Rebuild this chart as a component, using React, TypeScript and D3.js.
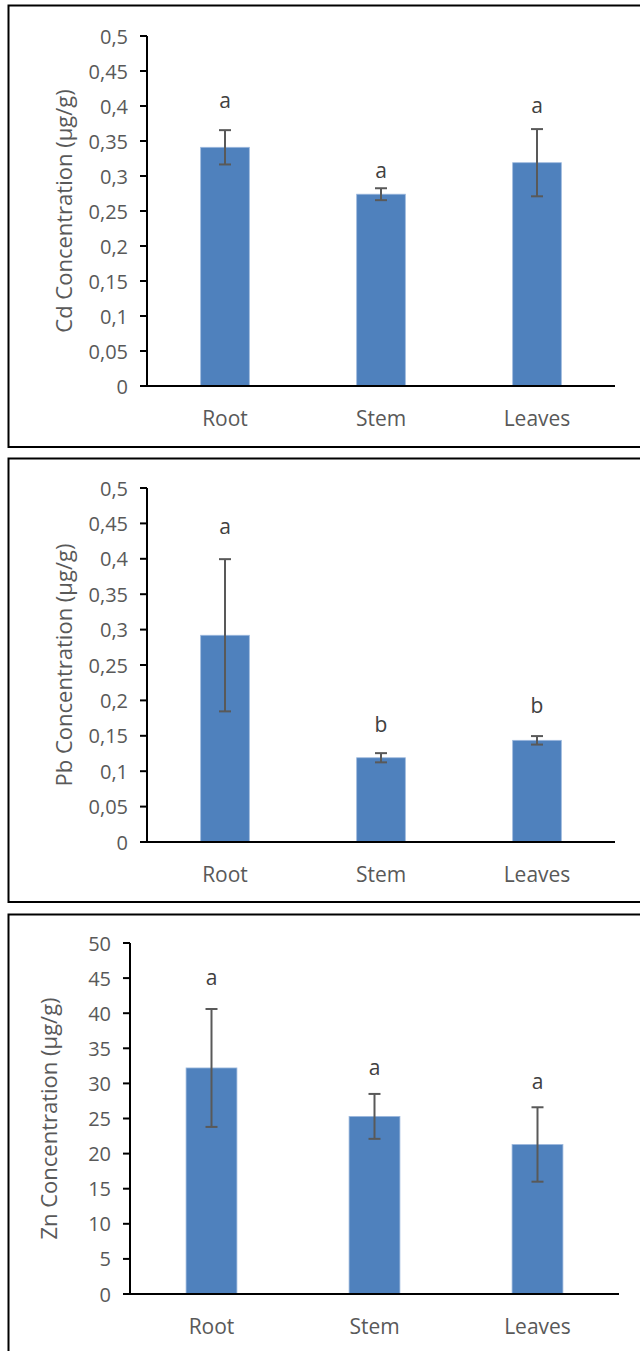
import React from "react";
import * as d3 from "d3";

const categories = ["Root", "Stem", "Leaves"];

const cdMeans = [0.341, 0.274, 0.319];
const cdErrors = [0.0245, 0.0085, 0.048];
const cdLetters = ["a", "a", "a"];
const cdLetterAt = [0.408, 0.309, 0.402];
const cdTicks = [0, 0.05, 0.1, 0.15, 0.2, 0.25, 0.3, 0.35, 0.4, 0.45, 0.5];

const pbMeans = [0.292, 0.119, 0.1436];
const pbErrors = [0.1075, 0.0065, 0.006];
const pbLetters = ["a", "b", "b"];
const pbLetterAt = [0.446, 0.167, 0.193];
const pbTicks = [0, 0.05, 0.1, 0.15, 0.2, 0.25, 0.3, 0.35, 0.4, 0.45, 0.5];

const znMeans = [32.2, 25.3, 21.3];
const znErrors = [8.4, 3.2, 5.3];
const znLetters = ["a", "a", "a"];
const znLetterAt = [45.2, 32.4, 30.4];
const znTicks = [0, 5, 10, 15, 20, 25, 30, 35, 40, 45, 50];

const FONT = "'Open Sans', 'Noto Sans', sans-serif";
const TEXT = "#595959";
const BAR = "#4F81BD";
const ERR = "#595959";

type PanelProps = {
  box: [number, number, number, number];
  axisX: number;
  axisEnd: number;
  yTop: number;
  yBottom: number;
  titleX: number;
  title: string;
  means: number[];
  errors: number[];
  letters: string[];
  letterAt: number[];
  ticks: number[];
  yMax: number;
  fmt: (v: number) => string;
};

function Panel(p: PanelProps) {
  const y = d3.scaleLinear().domain([0, p.yMax]).range([p.yBottom, p.yTop]);
  const x = d3.scaleBand<string>().domain(categories).range([p.axisX, p.axisEnd]).padding(0);
  const bw = x.bandwidth() * 0.312;
  const [bx, by, bwid, bh] = p.box;
  return (
    <g>
      <rect x={bx} y={by} width={bwid} height={bh} fill="#fff" stroke="#000" strokeWidth={2} />
      {categories.map((c, i) => {
        const cx = (x(c) as number) + x.bandwidth() / 2;
        const top = y(p.means[i]);
        const eTop = y(p.means[i] + p.errors[i]);
        const eBot = y(p.means[i] - p.errors[i]);
        return (
          <g key={c}>
            <rect x={cx - bw / 2} y={top} width={bw} height={p.yBottom - top} fill={BAR} stroke="#9DB9DE" strokeWidth={0.8} />
            <line x1={cx} x2={cx} y1={eTop} y2={eBot} stroke={ERR} strokeWidth={2} />
            <line x1={cx - 6} x2={cx + 6} y1={eTop} y2={eTop} stroke={ERR} strokeWidth={2} />
            <line x1={cx - 6} x2={cx + 6} y1={eBot} y2={eBot} stroke={ERR} strokeWidth={2} />
            <text x={cx} y={y(p.letterAt[i])} textAnchor="middle" dominantBaseline="central" fontFamily={FONT} fontSize={21} fill="#404040">
              {p.letters[i]}
            </text>
            <text x={cx} y={p.yBottom + 32} textAnchor="middle" dominantBaseline="central" fontFamily={FONT} fontSize={21} fill={TEXT}>
              {c}
            </text>
          </g>
        );
      })}
      {p.ticks.map((t) => (
        <g key={t}>
          <line x1={p.axisX - 7} x2={p.axisX} y1={y(t)} y2={y(t)} stroke="#000" strokeWidth={2} />
          <text x={p.axisX - 19} y={y(t)} textAnchor="end" dominantBaseline="central" fontFamily={FONT} fontSize={20} fill={TEXT}>
            {p.fmt(t)}
          </text>
        </g>
      ))}
      <line x1={p.axisX} x2={p.axisX} y1={y(p.yMax)} y2={p.yBottom} stroke="#000" strokeWidth={2} />
      <line x1={p.axisX - 7} x2={p.axisEnd} y1={p.yBottom} y2={p.yBottom} stroke="#000" strokeWidth={2} />
      <text
        transform={`translate(${p.titleX},${(p.yTop + p.yBottom) / 2}) rotate(-90)`}
        textAnchor="middle"
        dominantBaseline="central"
        fontFamily={FONT}
        fontSize={22}
        fill={TEXT}
      >
        {p.title}
      </text>
    </g>
  );
}

const commaFmt = (v: number) => String(v).replace(".", ",");

export default function App() {
  return (
    <svg width={640} height={1351} style={{ position: "absolute", left: 0, top: 0, background: "#fff" }}>
      <Panel
        box={[8.5, 5.5, 650, 441.5]}
        axisX={147}
        axisEnd={615}
        yTop={36}
        yBottom={386}
        titleX={63}
        title="Cd Concentration (µg/g)"
        means={cdMeans}
        errors={cdErrors}
        letters={cdLetters}
        letterAt={cdLetterAt}
        ticks={cdTicks}
        yMax={0.5}
        fmt={commaFmt}
      />
      <Panel
        box={[8.5, 458.5, 650, 443.5]}
        axisX={147}
        axisEnd={615}
        yTop={488}
        yBottom={842}
        titleX={63}
        title="Pb Concentration (µg/g)"
        means={pbMeans}
        errors={pbErrors}
        letters={pbLetters}
        letterAt={pbLetterAt}
        ticks={pbTicks}
        yMax={0.5}
        fmt={commaFmt}
      />
      <Panel
        box={[8.5, 914.5, 650, 460]}
        axisX={130}
        axisEnd={619}
        yTop={943}
        yBottom={1294}
        titleX={48}
        title="Zn Concentration (µg/g)"
        means={znMeans}
        errors={znErrors}
        letters={znLetters}
        letterAt={znLetterAt}
        ticks={znTicks}
        yMax={50}
        fmt={commaFmt}
      />
    </svg>
  );
}
